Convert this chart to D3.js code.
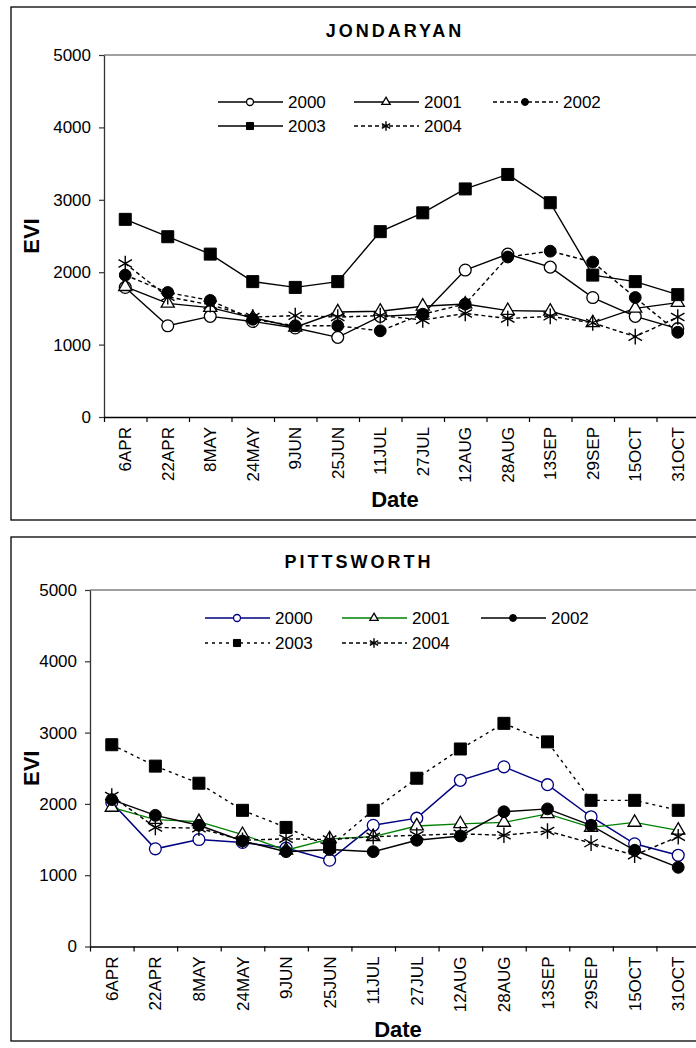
<!DOCTYPE html>
<html>
<head>
<meta charset="utf-8">
<script src="https://cdn.jsdelivr.net/npm/d3@7"></script>
<style>
body { margin: 0; background: #fff; }
text { font-family: "Liberation Sans", Arial, sans-serif; fill: #000; }
</style>
</head>
<body>
<svg id="chart" width="696" height="1048"></svg>
<script>
// categories / ticks
var dates = ["6APR", "22APR", "8MAY", "24MAY", "9JUN", "25JUN", "11JUL", "27JUL", "12AUG", "28AUG", "13SEP", "29SEP", "15OCT", "31OCT"];
var years = ["2000", "2001", "2002", "2003", "2004"];
var yTicks = [0, 1000, 2000, 3000, 4000, 5000];

// JONDARYAN
var jondaryan2000 = [1790, 1260, 1390, 1320, 1230, 1100, 1390, 1420, 2030, 2250, 2070, 1650, 1390, 1220];
var jondaryan2001 = [1800, 1570, 1510, 1370, 1240, 1450, 1460, 1530, 1560, 1470, 1460, 1300, 1500, 1580];
var jondaryan2002 = [1960, 1720, 1610, 1350, 1260, 1260, 1190, 1420, 1560, 2210, 2290, 2140, 1650, 1170];
var jondaryan2003 = [2730, 2490, 2250, 1870, 1790, 1870, 2560, 2820, 3150, 3350, 2960, 1960, 1870, 1690];
var jondaryan2004 = [2120, 1660, 1550, 1380, 1400, 1380, 1400, 1340, 1430, 1360, 1390, 1300, 1110, 1380];

// PITTSWORTH
var pittsworth2000 = [2020, 1370, 1500, 1460, 1380, 1210, 1700, 1800, 2330, 2520, 2270, 1820, 1440, 1280];
var pittsworth2001 = [1950, 1780, 1750, 1570, 1350, 1510, 1540, 1690, 1720, 1740, 1860, 1670, 1740, 1630];
var pittsworth2002 = [2060, 1840, 1700, 1480, 1330, 1360, 1330, 1490, 1550, 1890, 1930, 1700, 1350, 1110];
var pittsworth2003 = [2830, 2530, 2290, 1910, 1670, 1400, 1910, 2360, 2770, 3130, 2870, 2050, 2050, 1910];
var pittsworth2004 = [2110, 1670, 1660, 1490, 1510, 1500, 1540, 1560, 1580, 1560, 1620, 1450, 1280, 1540];

var svg = d3.select("#chart");

var panels = [
    {
        title: "JONDARYAN", titleX: 395, titleY: 37,
        box: {x: 11, y: 7, w: 760, h: 513},
        left: 104, right: 699, top: 55, bottom: 417,
        dateX: 395, dateY: 507, eviX: 31,
        legendRows: [102, 126], legendCols: [218, 354, 493],
        series: [
            {name: years[0], values: jondaryan2000, color: "#000", width: 1.4, dash: null, marker: "circle", open: true},
            {name: years[1], values: jondaryan2001, color: "#000", width: 1.4, dash: null, marker: "triangle", open: true},
            {name: years[2], values: jondaryan2002, color: "#000", width: 1.4, dash: "4,3", marker: "circle", open: false},
            {name: years[3], values: jondaryan2003, color: "#000", width: 1.4, dash: null, marker: "square", open: false},
            {name: years[4], values: jondaryan2004, color: "#000", width: 1.4, dash: "4,3", marker: "asterisk", open: true}
        ]
    },
    {
        title: "PITTSWORTH", titleX: 359, titleY: 568,
        box: {x: 11, y: 537, w: 760, h: 504},
        left: 90, right: 700, top: 590, bottom: 946.5,
        dateX: 398, dateY: 1037, eviX: 31,
        legendRows: [618, 643], legendCols: [205, 342, 481],
        series: [
            {name: years[0], values: pittsworth2000, color: "#000080", width: 1.5, dash: null, marker: "circle", open: true},
            {name: years[1], values: pittsworth2001, color: "#008000", width: 1.3, dash: null, marker: "triangle", open: true},
            {name: years[2], values: pittsworth2002, color: "#000", width: 1.4, dash: null, marker: "circle", open: false},
            {name: years[3], values: pittsworth2003, color: "#000", width: 1.4, dash: "3,4", marker: "square", open: false},
            {name: years[4], values: pittsworth2004, color: "#000", width: 1.4, dash: "4,3", marker: "asterisk", open: true}
        ]
    }
];

var symbolTypes = {
    circle: d3.symbolCircle,
    triangle: d3.symbolTriangle,
    square: d3.symbolSquare,
    asterisk: d3.symbolAsterisk
};
var bigSizes = {circle: 110, triangle: 75, square: 144, asterisk: 170};
var smallSizes = {circle: 38, triangle: 30, square: 50, asterisk: 65};

function markerStyle(sel, s) {
    var strokeCol = s.marker === "triangle" ? "#000" : s.color;
    if (s.marker === "asterisk") {
        sel.attr("fill", "none").attr("stroke", "#000").attr("stroke-width", 1.4);
    } else if (s.open) {
        sel.attr("fill", "#fff").attr("stroke", strokeCol).attr("stroke-width", 1.3);
    } else {
        sel.attr("fill", "#000").attr("stroke", "#000").attr("stroke-width", 1);
    }
}

panels.forEach(function (p) {
    var g = svg.append("g");

    // chart area frame
    g.append("rect")
        .attr("x", p.box.x).attr("y", p.box.y)
        .attr("width", p.box.w).attr("height", p.box.h)
        .attr("fill", "#fff").attr("stroke", "#000").attr("stroke-width", 1.3);

    g.append("text")
        .attr("x", p.titleX).attr("y", p.titleY)
        .attr("text-anchor", "middle")
        .style("font-size", "18px").style("font-weight", "bold")
        .style("letter-spacing", "3px")
        .text(p.title);

    var y = d3.scaleLinear().domain([0, 5000]).range([p.bottom, p.top]);
    var x = d3.scaleBand().domain(dates).range([p.left, p.right]);
    var xi = d3.scaleLinear().domain([0, dates.length]).range([p.left, p.right]);

    // plot area top border
    g.append("line")
        .attr("x1", p.left).attr("x2", p.right)
        .attr("y1", p.top).attr("y2", p.top)
        .attr("stroke", "#808080").attr("stroke-width", 1.3);

    // y axis
    var ya = g.append("g")
        .attr("transform", "translate(" + p.left + ",0)")
        .call(d3.axisLeft(y).tickValues(yTicks).tickFormat(d3.format("d"))
            .tickSize(5).tickSizeOuter(0).tickPadding(8));
    ya.select(".domain").attr("stroke", "#333").attr("stroke-width", 1.3);
    ya.selectAll(".tick line").attr("stroke", "#333").attr("stroke-width", 1.2);
    ya.selectAll("text").style("font-size", "17px").attr("fill", "#000")
        .style("font-family", "'Liberation Sans', Arial, sans-serif");

    // x axis tick marks at category borders
    var xa = g.append("g")
        .attr("transform", "translate(0," + p.bottom + ")")
        .call(d3.axisBottom(xi).tickValues(d3.range(dates.length + 1)).tickSize(5).tickSizeOuter(0).tickFormat(""));
    xa.select(".domain").attr("stroke", "#000").attr("stroke-width", 1.3);
    xa.selectAll(".tick line").attr("stroke", "#000").attr("stroke-width", 1.2);

    // category labels
    var xl = g.append("g")
        .attr("transform", "translate(0," + p.bottom + ")")
        .call(d3.axisBottom(x).tickSize(0).tickPadding(0));
    xl.select(".domain").remove();
    xl.selectAll("text")
        .attr("transform", "rotate(-90)")
        .attr("text-anchor", "end")
        .attr("x", -10).attr("y", 0).attr("dy", "0.36em")
        .attr("fill", "#000")
        .style("font-size", "17px")
        .style("font-family", "'Liberation Sans', Arial, sans-serif");

    // axis titles
    g.append("text")
        .attr("transform", "translate(" + p.eviX + "," + ((p.top + p.bottom) / 2) + ") rotate(-90)")
        .attr("text-anchor", "middle").attr("dy", "0.36em")
        .style("font-size", "22px").style("font-weight", "bold")
        .text("EVI");
    g.append("text")
        .attr("x", p.dateX).attr("y", p.dateY)
        .attr("text-anchor", "middle")
        .style("font-size", "22px").style("font-weight", "bold")
        .text("Date");

    // legend
    p.series.forEach(function (s, i) {
        var row = p.legendRows[Math.floor(i / 3)];
        var x0 = p.legendCols[i % 3];
        var lg = g.append("g");
        lg.append("line")
            .attr("x1", x0).attr("x2", x0 + 65)
            .attr("y1", row).attr("y2", row)
            .attr("stroke", s.color).attr("stroke-width", s.width)
            .attr("stroke-dasharray", s.dash);
        lg.append("path")
            .attr("transform", "translate(" + (x0 + 32) + "," + row + ")")
            .attr("d", d3.symbol().type(symbolTypes[s.marker]).size(smallSizes[s.marker])())
            .call(markerStyle, s);
        lg.append("text")
            .attr("x", x0 + 70).attr("y", row + 6)
            .style("font-size", "17px")
            .text(s.name);
    });

    // series: line then markers, in order
    var line = d3.line()
        .x(function (d, i) { return x(dates[i]) + x.bandwidth() / 2; })
        .y(function (d) { return y(d); });

    p.series.forEach(function (s) {
        var sg = g.append("g");
        sg.append("path")
            .datum(s.values)
            .attr("d", line)
            .attr("fill", "none")
            .attr("stroke", s.color)
            .attr("stroke-width", s.width)
            .attr("stroke-dasharray", s.dash);
        sg.selectAll(".mk")
            .data(s.values)
            .enter().append("path")
            .attr("class", "mk")
            .attr("transform", function (d, i) {
                return "translate(" + (x(dates[i]) + x.bandwidth() / 2) + "," + y(d) + ")";
            })
            .attr("d", d3.symbol().type(symbolTypes[s.marker]).size(bigSizes[s.marker])())
            .call(markerStyle, s);
    });
});
</script>
</body>
</html>
